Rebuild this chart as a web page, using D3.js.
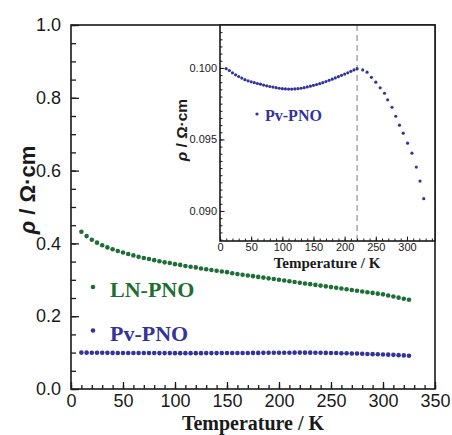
<!DOCTYPE html>
<html><head><meta charset="utf-8">
<script src="https://cdn.jsdelivr.net/npm/d3@7"></script>
<style>body{margin:0;background:#fff}svg{display:block}</style>
</head><body>
<svg id="c" width="452" height="435"></svg>
<script>
// ---- data ----
const lnTemps = [10,15,20,25,30,35,40,45,50,55,60,65,70,75,80,85,90,95,100,105,110,115,120,125,130,135,140,145,150,155,160,165,170,175,180,185,190,195,200,205,210,215,220,225,230,235,240,245,250,255,260,265,270,275,280,285,290,295,300,305,310,315,320,325];
const lnRho = [0.432,0.420,0.410,0.402,0.395,0.389,0.384,0.379,0.375,0.371,0.367,0.363,0.360,0.357,0.354,0.351,0.348,0.346,0.343,0.341,0.338,0.336,0.334,0.331,0.329,0.327,0.325,0.323,0.321,0.318,0.316,0.314,0.312,0.310,0.308,0.306,0.304,0.302,0.300,0.298,0.296,0.294,0.292,0.290,0.288,0.286,0.284,0.282,0.280,0.278,0.276,0.274,0.272,0.270,0.268,0.266,0.264,0.262,0.260,0.257,0.254,0.251,0.248,0.245];
// Pv-PNO as drawn in the main panel (even 5 K spacing)
const pvMainTemps = lnTemps;
const pvMainRho = [0.09995,0.09982,0.09966,0.09952,0.09940,0.09929,0.09918,0.09910,0.09903,0.09897,0.09891,0.09886,0.09880,0.09875,0.09870,0.09866,0.09862,0.09858,0.09855,0.09853,0.09852,0.09852,0.09853,0.09855,0.09858,0.09862,0.09867,0.09872,0.09878,0.09884,0.09890,0.09897,0.09905,0.09913,0.09921,0.09930,0.09939,0.09948,0.09957,0.09966,0.09976,0.09986,0.09995,0.09992,0.09984,0.09972,0.09950,0.09924,0.09900,0.09872,0.09840,0.09815,0.09770,0.09733,0.09682,0.09630,0.09580,0.09535,0.09484,0.09434,0.09377,0.09303,0.09225,0.09122];
// Pv-PNO as drawn in the inset
const pvTemps = [10,15,20,25,30,35,40,45,50,55,60,65,70,75,80,85,90,95,100,105,110,115,120,125,130,135,140,145,150,155,160,165,170,175,180,185,190,195,200,205,210,215,220,229,236,243,250,257,264,269,276,282,288,294,301,308,315,321,327];
const pvRho = [0.09995,0.09982,0.09966,0.09952,0.09940,0.09929,0.09918,0.09910,0.09903,0.09897,0.09891,0.09886,0.09880,0.09875,0.09870,0.09866,0.09862,0.09858,0.09855,0.09853,0.09852,0.09852,0.09853,0.09855,0.09858,0.09862,0.09867,0.09872,0.09878,0.09884,0.09890,0.09897,0.09905,0.09913,0.09921,0.09930,0.09939,0.09948,0.09957,0.09966,0.09976,0.09986,0.09995,0.09986,0.09970,0.09934,0.09900,0.09861,0.09823,0.09777,0.09725,0.09662,0.09600,0.09544,0.09474,0.09404,0.09307,0.09209,0.09086];
const mainXTicks = [0,50,100,150,200,250,300,350];
const mainYTicks = [0.0,0.2,0.4,0.6,0.8,1.0];
const insetXTicks = [0,50,100,150,200,250,300];
const insetYTicks = [0.090,0.095,0.100];
const seriesNames = ["LN-PNO","Pv-PNO"];
const transitionT = [220];
const xTitle = "Temperature / K";

// ---- styles ----
const green = "#1e6e37", blue = "#33339a", ink = "#1a1a1a";
const svg = d3.select("#c");
svg.append("rect").attr("width",452).attr("height",435).attr("fill","#fff");

// ---- main chart ----
const x = d3.scaleLinear().domain([0,350]).range([71,435]);
const y = d3.scaleLinear().domain([0,1]).range([389,25]);

const gx = svg.append("g").attr("transform","translate(0,389)");
gx.call(d3.axisBottom(x).tickValues(d3.range(0,351,10)).tickSize(-4).tickFormat(""));
gx.call(g=>g.append("g").call(d3.axisBottom(x).tickValues(mainXTicks).tickSize(-7).tickPadding(5).tickFormat(d3.format("d"))));
const gy = svg.append("g").attr("transform","translate(71,0)");
gy.call(d3.axisLeft(y).tickValues(d3.range(0,1.001,0.05)).tickSize(-5).tickFormat(""));
gy.call(g=>g.append("g").call(d3.axisLeft(y).tickValues(mainYTicks).tickSize(-8).tickPadding(10).tickFormat(d3.format(".1f"))));
svg.selectAll(".domain").remove();
svg.selectAll(".tick line").attr("stroke",ink).attr("stroke-width",1.3);
svg.selectAll(".tick text").attr("font-family","Liberation Sans, Arial, sans-serif").attr("font-size",18).attr("fill",ink);

svg.append("rect").attr("x",71).attr("y",25).attr("width",435-71).attr("height",389-25)
  .attr("fill","none").attr("stroke",ink).attr("stroke-width",1.6);

const lnData = lnTemps.map((t,i)=>({t,v:lnRho[i]}));
const pvMainData = pvMainTemps.map((t,i)=>({t,v:pvMainRho[i]}));
const pvData = pvTemps.map((t,i)=>({t,v:pvRho[i]}));

svg.append("g").selectAll("circle").data(lnData).join("circle")
  .attr("cx",d=>x(d.t)).attr("cy",d=>y(d.v)).attr("r",2.3).attr("fill",green);
svg.append("g").selectAll("circle").data(pvMainData).join("circle")
  .attr("cx",d=>x(d.t)).attr("cy",d=>y(d.v)).attr("r",2.3).attr("fill",blue);

// legend
const leg = [{name:seriesNames[0],c:green,y:297},{name:seriesNames[1],c:blue,y:340.5}];
leg.forEach(l=>{
  svg.append("circle").attr("cx",93).attr("cy",l.y-10).attr("r",2.3).attr("fill",l.c);
  svg.append("text").attr("x",110).attr("y",l.y).text(l.name)
    .attr("font-family","Liberation Serif, Times New Roman, serif").attr("font-weight","bold")
    .attr("font-size",22).attr("fill",l.c);
});

// axis titles
svg.append("text").attr("x",253).attr("y",430).attr("text-anchor","middle").text(xTitle)
  .attr("font-family","Liberation Serif, Times New Roman, serif").attr("font-weight","bold").attr("font-size",20).attr("fill",ink);
const yt = svg.append("text").attr("transform","translate(35,190) rotate(-90)").attr("text-anchor","middle")
  .attr("font-family","Liberation Sans, Arial, sans-serif").attr("font-weight","bold").attr("font-size",22).attr("fill",ink);
yt.append("tspan").attr("font-style","italic").text("ρ");
yt.append("tspan").text(" / Ω·cm");

// ---- inset ----
const ix = d3.scaleLinear().domain([0,345]).range([220,435]);
const iy = d3.scaleLinear().domain([0.0879,0.1030]).range([241,25]);
const ins = svg.append("g");
ins.append("rect").attr("x",220).attr("y",25).attr("width",215).attr("height",216).attr("fill","#fff");
ins.append("line").attr("x1",ix(transitionT[0])).attr("x2",ix(transitionT[0])).attr("y1",241).attr("y2",25)
  .attr("stroke","#9a9a9a").attr("stroke-width",1.3).attr("stroke-dasharray","6,4");
const igx = ins.append("g").attr("transform","translate(0,241)");
igx.call(d3.axisBottom(ix).tickValues(d3.range(0,341,10)).tickSize(-2.5).tickFormat(""));
igx.call(g=>g.append("g").call(d3.axisBottom(ix).tickValues(insetXTicks).tickSize(-4.5).tickPadding(2).tickFormat(d3.format("d"))));
const igy = ins.append("g").attr("transform","translate(220,0)");
igy.call(d3.axisLeft(iy).tickValues(d3.range(0.0880,0.1030,0.0005)).tickSize(-2.5).tickFormat(""));
igy.call(g=>g.append("g").call(d3.axisLeft(iy).tickValues(insetYTicks).tickSize(-4.5).tickPadding(3).tickFormat(d3.format(".3f"))));
ins.selectAll(".domain").remove();
ins.selectAll(".tick line").attr("stroke",ink).attr("stroke-width",1);
ins.selectAll(".tick text").attr("font-family","Liberation Sans, Arial, sans-serif").attr("font-size",11).attr("fill",ink);
ins.append("rect").attr("x",220).attr("y",25).attr("width",215).attr("height",216)
  .attr("fill","none").attr("stroke",ink).attr("stroke-width",1.6);
ins.append("g").selectAll("circle").data(pvData).join("circle")
  .attr("cx",d=>ix(d.t)).attr("cy",d=>iy(d.v)).attr("r",1.6).attr("fill",blue);
ins.append("circle").attr("cx",257).attr("cy",114).attr("r",1.6).attr("fill",blue);
ins.append("text").attr("x",265).attr("y",120.5).text(seriesNames[1])
  .attr("font-family","Liberation Serif, Times New Roman, serif").attr("font-weight","bold").attr("font-size",16).attr("fill",blue);
ins.append("text").attr("x",327).attr("y",268).attr("text-anchor","middle").text(xTitle)
  .attr("font-family","Liberation Serif, Times New Roman, serif").attr("font-weight","bold").attr("font-size",15).attr("fill",ink);
const iyt = ins.append("text").attr("transform","translate(187,130) rotate(-90)").attr("text-anchor","middle")
  .attr("font-family","Liberation Sans, Arial, sans-serif").attr("font-weight","bold").attr("font-size",15.5).attr("fill",ink);
iyt.append("tspan").attr("font-style","italic").text("ρ");
iyt.append("tspan").text(" / Ω·cm");
</script>
</body></html>
